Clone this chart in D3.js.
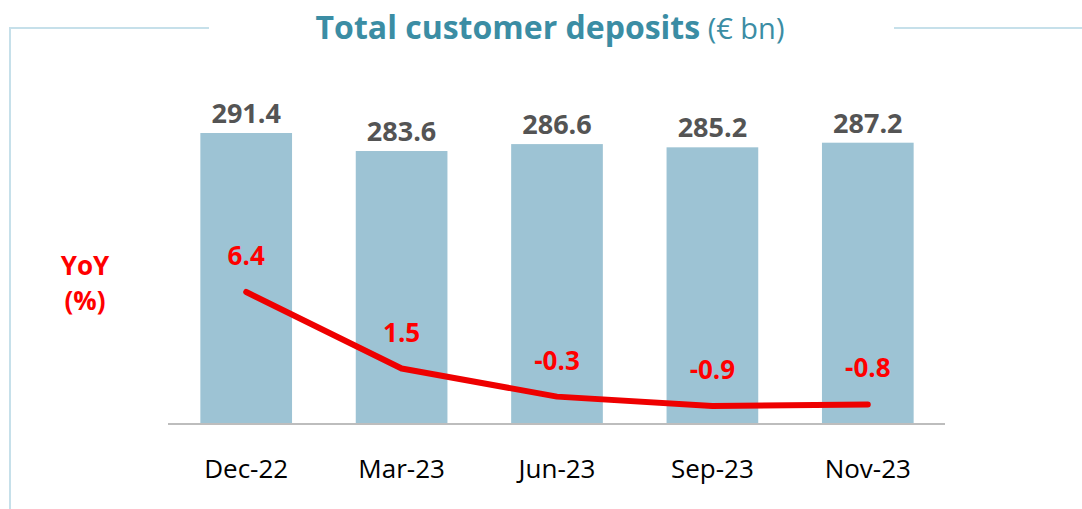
<!DOCTYPE html>
<html lang="en">
<head>
    <meta charset="UTF-8">
    <title>Total customer deposits</title>
    <script src="https://d3js.org/d3.v7.min.js"></script>
    <style>
        body { margin: 0; background: #fff; }
        text { font-family: "Open Sans", "Noto Sans", sans-serif; }
    </style>
</head>
<body>
<script>
// data
const categories = ["Dec-22", "Mar-23", "Jun-23", "Sep-23", "Nov-23"];
const deposits = [291.4, 283.6, 286.6, 285.2, 287.2];
const yoy = [6.4, 1.5, -0.3, -0.9, -0.8];

const width = 1082;
const height = 509;

const svg = d3.select("body").append("svg")
    .attr("width", width)
    .attr("height", height);

// frame lines around the title
const frame = "#c6e0ea";
svg.append("path")
    .attr("d", "M10,509 V28 H209")
    .attr("fill", "none")
    .attr("stroke", frame)
    .attr("stroke-width", 2);
svg.append("line")
    .attr("x1", 894).attr("x2", 1082)
    .attr("y1", 28).attr("y2", 28)
    .attr("stroke", frame)
    .attr("stroke-width", 2);

// title
const title = svg.append("text")
    .attr("x", 550)
    .attr("y", 39)
    .attr("text-anchor", "middle")
    .attr("fill", "#3b8da4")
    .style("font-size", "32px");
title.append("tspan").attr("font-weight", "bold").text("Total customer deposits");
title.append("tspan").style("font-size", "29px").text(" (€ bn)");

const x = d3.scaleBand()
    .domain(categories)
    .range([168.5, 945.5])
    .paddingInner(0.41)
    .paddingOuter(0.205);

const baseY = 424;
// truncated axis, as in the original
const y = d3.scaleLinear()
    .domain([165.4, 291.4])
    .range([baseY, 133]);

const y2 = d3.scaleLinear()
    .domain([-0.9, 6.4])
    .range([406, 292]);

// bars
svg.append("g")
    .selectAll("rect")
    .data(deposits)
    .join("rect")
    .attr("x", (d, i) => x(categories[i]))
    .attr("width", x.bandwidth())
    .attr("y", d => y(d))
    .attr("height", d => baseY - y(d))
    .attr("fill", "#9dc3d4");

// bar labels
svg.append("g")
    .selectAll("text")
    .data(deposits)
    .join("text")
    .attr("x", (d, i) => x(categories[i]) + x.bandwidth() / 2)
    .attr("y", d => y(d) - 10)
    .attr("text-anchor", "middle")
    .attr("fill", "#545454")
    .attr("font-weight", "bold")
    .style("font-size", "27px")
    .text(d => d.toFixed(1));

// baseline
svg.append("line")
    .attr("x1", 168).attr("x2", 945)
    .attr("y1", baseY).attr("y2", baseY)
    .attr("stroke", "#bdbdbd")
    .attr("stroke-width", 2);

// category axis
const xAxis = svg.append("g")
    .attr("transform", `translate(0,${baseY})`)
    .call(d3.axisBottom(x).tickSize(0).tickPadding(36));
xAxis.select(".domain").remove();
xAxis.selectAll("text")
    .attr("fill", "#000")
    .style("font-family", "'Open Sans', 'Noto Sans', sans-serif")
    .style("font-size", "26px");

// YoY line
const line = d3.line()
    .x((d, i) => x(categories[i]) + x.bandwidth() / 2)
    .y(d => y2(d));

svg.append("path")
    .datum(yoy)
    .attr("d", line)
    .attr("fill", "none")
    .attr("stroke", "#ee0000")
    .attr("stroke-width", 6)
    .attr("stroke-linecap", "round")
    .attr("stroke-linejoin", "round");

svg.append("g")
    .selectAll("text")
    .data(yoy)
    .join("text")
    .attr("x", (d, i) => x(categories[i]) + x.bandwidth() / 2)
    .attr("y", d => y2(d) - 27)
    .attr("text-anchor", "middle")
    .attr("fill", "#ff0000")
    .attr("font-weight", "bold")
    .style("font-size", "26px")
    .text(d => d.toFixed(1));

// YoY label
const yoyLabel = svg.append("text")
    .attr("text-anchor", "middle")
    .attr("fill", "#ff0000")
    .attr("font-weight", "bold")
    .style("font-size", "26px");
yoyLabel.append("tspan").attr("x", 85).attr("y", 275).text("YoY");
yoyLabel.append("tspan").attr("x", 85).attr("y", 310).text("(%)");
</script>
</body>
</html>
